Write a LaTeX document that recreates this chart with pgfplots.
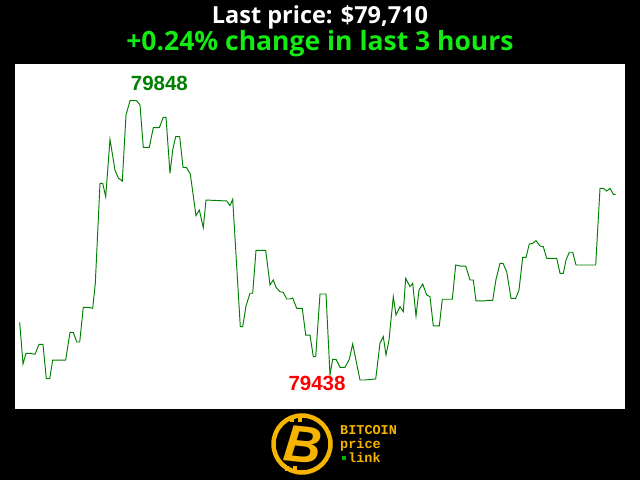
\documentclass[border=0pt]{standalone}
\usepackage{pgfplots}
\pgfplotsset{compat=1.18}
\usepackage{fontspec}
\setmainfont{Open Sans}
\newfontfamily\labfont{Liberation Sans}
\newfontfamily\logofont{Liberation Mono}

\definecolor{linegreen}{RGB}{0,128,0}
\definecolor{brightgreen}{RGB}{20,235,20}
\definecolor{lowred}{RGB}{255,0,0}
\definecolor{btcorange}{RGB}{245,180,0}

\begin{document}
\begin{tikzpicture}[x=1pt,y=1pt]
% background and plot panel
\fill[black] (0,0) rectangle (640,480);
\useasboundingbox (0,0) rectangle (640,480);
\fill[white] (15,71) rectangle (625,416);

% header
\node[anchor=base, inner sep=0, text=white, font=\bfseries\fontsize{23.5}{23.5}\selectfont] at (320,456) {Last price: \$79,710};
\node[anchor=base, inner sep=0, text=brightgreen, font=\bfseries\fontsize{26.5}{26.5}\selectfont] at (320,429.5) {+0.24\% change in last 3 hours};

\begin{axis}[
    at={(15pt,71pt)}, anchor=south west,
    scale only axis, width=610pt, height=345pt,
    xmin=15, xmax=625, ymin=79395.4, ymax=79901.9,
    hide axis, clip=false,
]
\addplot[linegreen, line width=0.95pt, no markers] coordinates {
(19.7,79522.7) (23,79461.5) (26,79477.2) (30,79477.2) (35,79475.7)
(39,79490.4) (43,79490.4) (46.3,79439.9) (49.7,79439.9) (52.7,79467.3)
(65.7,79467.3) (70,79508) (73.3,79508) (76.7,79493.8) (79.7,79493.8)
(83.3,79544.7) (89,79544.7) (92.7,79543.2) (95.3,79580) (100,79726.7)
(102.7,79726.7) (105.7,79707) (110,79791.3) (115,79746) (118.3,79734.5)
(122.3,79730) (126,79827) (130,79848) (136.7,79848) (140,79841.7)
(143.3,79779.6) (149.3,79779.6) (153.3,79808.4) (159.3,79808.4) (163.3,79823.6)
(166,79823.6) (170,79741.4) (172.7,79775.6) (175.7,79795.2) (179.7,79795.2)
(183,79750.2) (186.3,79750.2) (190.3,79740.4) (196,79679.2) (199.3,79687.5)
(203.3,79661.6) (206,79702.2) (226.7,79700.8) (230,79693.9) (232.7,79703.3)
(240.3,79516.2) (242.7,79516.2) (246,79546.6) (250,79565.3) (252.7,79565.3)
(256,79628.4) (265.7,79628.4) (270,79577.4) (273.3,79584.8) (276,79574.1)
(280,79567.6) (283.3,79566.7) (286.7,79556.9) (290,79556.9) (292.7,79558.4)
(296.7,79543.2) (302.3,79543.2) (305.7,79504) (310,79504) (313.3,79472.2)
(315.7,79472.2) (320,79564.2) (326,79564.2) (330,79445.3) (332.7,79468.4)
(336,79468.4) (340,79456.6) (345,79456.6) (349.3,79468.4) (352.7,79490.8)
(360,79438) (365,79438) (375.7,79439.5) (380,79491.9) (383.3,79501.6)
(386,79474.7) (389,79496.7) (393.3,79560.3) (396,79533.4) (400,79545.6)
(403.3,79538.3) (405.7,79587.3) (410,79575) (412.7,79580) (416,79531.9)
(419,79570.1) (422.7,79578.9) (426.7,79562.8) (430,79560.3) (433.3,79517.3)
(439.3,79517.3) (442.3,79556.5) (452.3,79556.5) (455.7,79606.8) (460,79605.3)
(465.7,79605.3) (470,79584.8) (473.3,79584.8) (476,79554) (485.7,79554)
(486.7,79555) (492.7,79555) (496,79585.8) (500,79609.3) (503,79609.3)
(506.7,79597) (511,79557.9) (515.7,79557.9) (519,79570.1) (522.7,79618.1)
(526,79618.1) (529.3,79637.6) (532.7,79638.7) (536,79642.5) (540,79634.7)
(543.3,79633.7) (546.7,79616.6) (556.7,79616.6) (560,79594.6) (563.3,79594.6)
(566,79614.1) (569.3,79625.5) (572.7,79625.5) (576,79606.8) (595.7,79606.8)
(600,79719.4) (603.3,79719.4) (606.7,79715.4) (610,79719.4) (613.3,79710.6)
(615.7,79710.6)
};
% high / low labels
\node[anchor=base west, inner sep=0, text=linegreen, font=\labfont\bfseries\fontsize{20.5}{20.5}\selectfont] at (axis cs:130.7,79862.7) {79848};
\node[anchor=base west, inner sep=0, text=lowred, font=\labfont\bfseries\fontsize{20.5}{20.5}\selectfont] at (axis cs:288.3,79422.3) {79438};
\end{axis}

% logo
\draw[btcorange, line width=4.5pt] (302,36) circle (28.5);
\node[text=btcorange, font=\labfont\bfseries\itshape\fontsize{52}{52}\selectfont, rotate=-6] at (303,35) {B};
\fill[btcorange] (290,58) rectangle (294,63);
\fill[btcorange] (298,58) rectangle (302,63);
\fill[btcorange] (285,9) rectangle (289,14);
\fill[btcorange] (293,9) rectangle (297,14);
\node[anchor=base west, inner sep=0, text=btcorange, font=\logofont\bfseries\fontsize{13.5}{13.5}\selectfont] at (340,46) {BITCOIN};
\node[anchor=base west, inner sep=0, text=btcorange, font=\logofont\bfseries\fontsize{13.5}{13.5}\selectfont] at (340,32) {price};
\fill[green!70!black] (342,20.5) rectangle (345.5,24);
\node[anchor=base west, inner sep=0, text=btcorange, font=\logofont\bfseries\fontsize{13.5}{13.5}\selectfont] at (348,18) {link};
\end{tikzpicture}
\end{document}
